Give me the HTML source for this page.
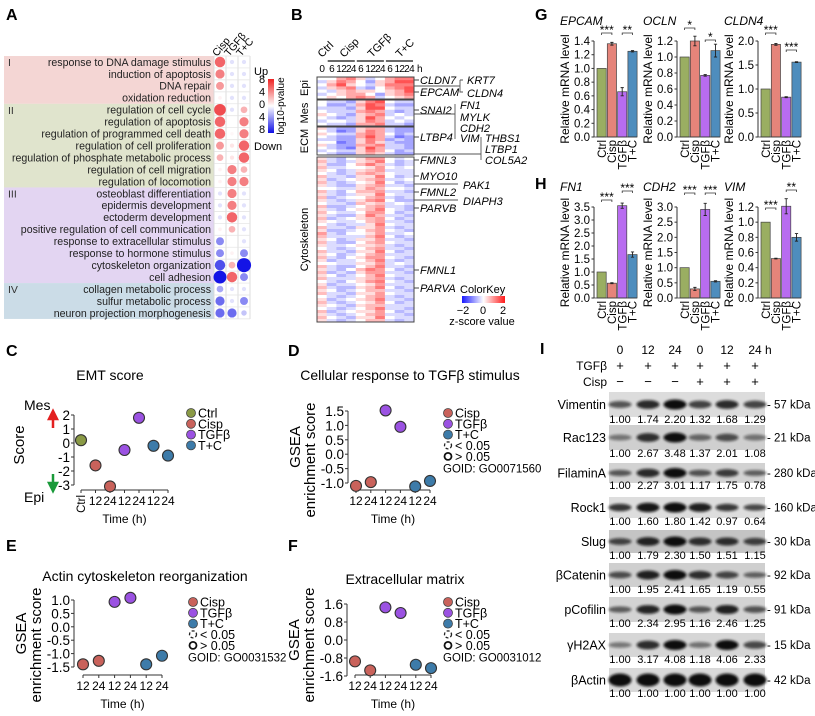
<!DOCTYPE html>
<html><head><meta charset="utf-8">
<style>
html,body{margin:0;padding:0;background:#fff;}
svg{display:block;font-family:"Liberation Sans",Arial,sans-serif;}
.pl{font-size:16px;font-weight:bold;}
.it{font-style:italic;}
</style></head>
<body>
<svg id="fig" width="815" height="716" viewBox="0 0 815 716" xmlns="http://www.w3.org/2000/svg">
<defs>
<linearGradient id="gA" x1="0" y1="0" x2="0" y2="1"><stop offset="0" stop-color="#ee2222"/><stop offset="0.5" stop-color="#ffffff"/><stop offset="1" stop-color="#1010e6"/></linearGradient>
<linearGradient id="gB" x1="0" y1="0" x2="1" y2="0"><stop offset="0" stop-color="#1a1aff"/><stop offset="0.5" stop-color="#ffffff"/><stop offset="1" stop-color="#ff1a1a"/></linearGradient>
<filter id="blur" x="-20%" y="-50%" width="140%" height="200%"><feGaussianBlur stdDeviation="1.3"/></filter>
</defs>
<text class="pl" x="6" y="20">A</text>
<text class="pl" x="291" y="20">B</text>
<text class="pl" x="535" y="20">G</text>
<text class="pl" x="535" y="189">H</text>
<text class="pl" x="540" y="354">I</text>
<text class="pl" x="6" y="356">C</text>
<text class="pl" x="288" y="356">D</text>
<text class="pl" x="6" y="551">E</text>
<text class="pl" x="288" y="551">F</text>
<g id="pA"></g>
<g id="pB"></g>
<g id="pG"></g>
<g id="pI"></g>
<g id="pC"></g>
</svg>
<script>
const NS='http://www.w3.org/2000/svg';
function mk(tag,attrs,parent){const e=document.createElementNS(NS,tag);for(const k in attrs)e.setAttribute(k,attrs[k]);parent.appendChild(e);return e;}
function tx(parent,x,y,s,attrs){const e=mk('text',Object.assign({x:x,y:y},attrs||{}),parent);e.textContent=s;return e;}

/* ===== Panel A data ===== */
const goTerms=["response to DNA damage stimulus","induction of apoptosis","DNA repair","oxidation reduction","regulation of cell cycle","regulation of apoptosis","regulation of programmed cell death","regulation of cell proliferation","regulation of phosphate metabolic process","regulation of cell migration","regulation of locomotion","osteoblast differentiation","epidermis development","ectoderm development","positive regulation of cell communication","response to extracellular stimulus","response to hormone stimulus","cytoskeleton organization","cell adhesion","collagen metabolic process","sulfur metabolic process","neuron projection morphogenesis"];
const goCisp=[6,5,4,0.5,7,6,6,4,3,0.5,0.5,-1,-1,-1,0.5,-4,-4,-6,-8,-3,-5,-5];
const goTgf=[-1,-1,-1,-1,-1,0,0.3,1,1,5,5,5,5,6,3,0,0.5,3,6,-1,-1,-5];
const goTC=[-1,-1,-1,-1,3,5,5,6,6,3,5,-1,-1,-1,-1,-1,-4,-9,-4,-1,-4,-2];
const goColNames=["Cisp","TGFβ","T+C"];
const goGroupNames=["I","II","III","IV"];
const goGroupStart=[0,4,11,19];
const goGroupEnd=[3,10,18,21];
const goGroupFill=["#f4d6d4","#e0e4cd","#e3d5f2","#cbdce7"];
const cbTicks=["8","4","0","4","8"];
(function(){
  const g=document.getElementById('pA');
  const rowY=i=>62+i*11.95;
  const colX=[220,232,244];
  for(let k=0;k<goGroupNames.length;k++){
    const y0=rowY(goGroupStart[k])-6,y1=rowY(goGroupEnd[k])+6;
    const r=mk('rect',{x:4,y:y0,width:210,height:y1-y0,fill:goGroupFill[k]},g);
    
    
    const t=tx(g,8,y0+10,goGroupNames[k],{'font-size':10.5,fill:'#333'});
    
    
  }
  const top=rowY(0)-6,bot=rowY(goTerms.length-1)+6;
  for(let c=0;c<=3;c++){const l=mk('line',{x1:214+c*12,x2:214+c*12,y1:top,y2:bot,stroke:'#d6d6d6','stroke-width':0.8},g);
    
    }
  for(let i=0;i<=goTerms.length;i++){const y=rowY(i)-6;const l=mk('line',{x1:214,x2:250,y1:y,y2:y,stroke:'#e2e2e2','stroke-width':0.7},g);
    
    }
  const vals=[goCisp,goTgf,goTC];
  goTerms.forEach((term,i)=>{
    const t=tx(g,211,rowY(i)+3.8,term,{'font-size':10.6,fill:'#222'});
    t.setAttribute('text-anchor','end');
    
    
    for(let c=0;c<3;c++){
      const v=vals[c][i];const a=Math.min(1,Math.abs(v)/8);
      const col=v>=0?`rgb(${Math.round(255-17*a)},${Math.round(255-205*a)},${Math.round(255-200*a)})`:`rgb(${Math.round(255-235*a)},${Math.round(255-235*a)},${Math.round(255-25*a)})`;
      const d=mk('circle',{cx:colX[c],cy:rowY(i),r:1.5+0.62*Math.abs(v),fill:col},g);
      
      
    }
  });
  goColNames.forEach((n,c)=>{const t=tx(g,colX[c]-3,57,n,{'font-size':10.5,transform:`rotate(-50 ${colX[c]-3} 57)`});
    
    });
  const bar=mk('rect',{x:268,y:79,width:6,height:54,fill:'url(#gA)'},g);
  
  
  cbTicks.forEach((s,i)=>{const t=tx(g,262,83+i*12.5,s,{'font-size':11,'text-anchor':'middle'});
    
    });
  const up=tx(g,254,75,"Up",{'font-size':11});
  const dn=tx(g,254,150,"Down",{'font-size':11});
  const lg=tx(g,0,0,"log10-pvalue",{'font-size':10,'text-anchor':'middle',transform:'translate(284 106) rotate(-90)'});
  
  
})();

/* ===== Panel B data ===== */
const hmGroupNames=["Epi","Mes","ECM","Cytoskeleton"];
const hmEpi=["4467534677","3576425688","4685435777","3567324678","4356554568","3456642567","4546763456"];
const hmMes=["4332578433","4223687322","3332588433","4333676323","5432567343","4323586434","3443576343","4332667332"];
const hmEcm=["5322566322","4312576322","5433676423","4322686312","3322576232","4412575322","5322667332","4321586332","3433576423","4322565322"];
const hmCyto=["5324577434","6323568423","5224686323","6334457434","5423567333","4323676433","6332558423","5234567334","6323458423","5322567332","4433576443","6324667332","5323558433","6234467323","5323578422","4332656343","6223467332","5324568432","6433477423","5322586332","6234567423","5433467332","4323358433","6332557323","5223467432","7324457334","6333368423","5423557332","6322467433","5334556323","4323467332","6332558423","5423467333","6324577432","5233468323","4433557343","6322468332","5324687423","6232577332","5423468433","6333567323","4324578432","5233457333","6322568423","5423466332","6332557433","4323467323","5234568332","6323457423","5432566333","4323468332","6234557423","5323467332","6432558433","5323466323"];
const hmTimes=["0","6","12","24","6","12","24","6","12","24"];
const hmConds=["Ctrl","Cisp","TGFβ","T+C"];
const hmGenes=["CLDN7","EPCAM","SNAI2","LTBP4","FMNL3","MYO10","FMNL2","PARVB","FMNL1","PARVA"];
const hmGeneY=[80,92,110,137,160,176,192,208,270,288];
(function(){
  const g=document.getElementById('pB');
  const x0=317,x1=414,cw=(x1-x0)/10;
  const blocks=[hmEpi,hmMes,hmEcm,hmCyto];
  const by0=[77,100,127,157],by1=[99,126,155,322];
  const col=(d,b)=>{const v=(d-4)/4;const a=Math.abs(v)*(b==3?0.62:0.8);return v>=0?`rgb(255,${Math.round(255-215*a)},${Math.round(255-215*a)})`:`rgb(${Math.round(255-225*a)},${Math.round(255-225*a)},255)`;};
  blocks.forEach((rows,b)=>{
    const rh=(by1[b]-by0[b])/rows.length;
    rows.forEach((s,r)=>{for(let c=0;c<10;c++){
      const rc=mk('rect',{x:x0+c*cw,y:by0[b]+r*rh,width:cw+0.3,height:rh+0.3,fill:col(+s[c],b)},g);
      
      
    }});
    const br=mk('rect',{x:x0,y:by0[b],width:x1-x0,height:by1[b]-by0[b],fill:'none',stroke:'#444','stroke-width':1},g);
    
    
    const cy=(by0[b]+by1[b])/2;
    const lab=tx(g,0,0,hmGroupNames[b],{'font-size':11,'text-anchor':'middle',transform:`translate(308 ${b==1?113:b==2?141:cy}) rotate(-90)`});
    
    
  });
  hmTimes.forEach((s,c)=>{const t=tx(g,x0+(c+0.5)*cw,72,s,{'font-size':10,'text-anchor':'middle','letter-spacing':'-0.6'});
    
    });
  const h=tx(g,417,72,"h",{'font-size':10});
  const cx=[322,344,372,400];
  hmConds.forEach((s,i)=>{const t=tx(g,cx[i],58,s,{'font-size':11,transform:`rotate(-45 ${cx[i]} 58)`});
    
    
    if(i>0){const l=mk('line',{x1:x0+(1+(i-1)*3)*cw+1,x2:x0+(4+(i-1)*3)*cw-1,y1:61,y2:61,stroke:'#111','stroke-width':1.2},g);
      
      }
  });
  hmGenes.forEach((s,i)=>{
    const l=mk('line',{x1:414,x2:419,y1:hmGeneY[i],y2:hmGeneY[i],stroke:'#444'},g);
    
    
    const t=tx(g,420,hmGeneY[i]+4,s,{'font-size':11,'font-style':'italic'});
    
    
  });
  const extra=[["KRT7",467,84],["CLDN4",467,97],["FN1",460,109],["MYLK",460,121],["CDH2",460,132],["VIM",460,142],["THBS1",485,142],["LTBP1",485,153],["COL5A2",485,164],["PAK1",463,189],["DIAPH3",463,205]];
  extra.forEach(e=>{const t=tx(g,e[1],e[2],e[0],{'font-size':11,'font-style':'italic'});
    
    });
  const paths=["M414 86 H460 M460 80 V92 H463 M460 80 H463","M414 114 H455 M455 104 V139","M414 154 H481 M481 137 V160","M414 184 H458","M414 200 H458"];
  paths.forEach(d=>{const p=mk('path',{d:d,fill:'none',stroke:'#555','stroke-width':0.9},g);
    
    });
  const ck=tx(g,460,293,"ColorKey",{'font-size':11});
  const cb=mk('rect',{x:462,y:296,width:43,height:7,fill:'url(#gB)'},g);
  ["−2","0","2"].forEach((s,i)=>{const t=tx(g,463+i*20,314,s,{'font-size':11,'text-anchor':'middle'});});
  const zs=tx(g,482,325,"z-score value",{'font-size':11,'text-anchor':'middle'});
})();

/* ===== Panels G/H data ===== */
const barGroups=["Ctrl","Cisp","TGFβ","T+C"];
const barColors=["#9aae62","#e5847a","#b86cf0","#4e8dbd"];
const geneTitles=["EPCAM","OCLN","CLDN4","FN1","CDH2","VIM"];
const valEPCAM=[1,1.36,0.66,1.25], errEPCAM=[0,0.02,0.06,0.01];
const valOCLN=[1,1.2,0.77,1.08], errOCLN=[0,0.06,0.01,0.08];
const valCLDN4=[1,1.93,0.83,1.56], errCLDN4=[0,0.02,0.01,0.01];
const valFN1=[1,0.57,3.55,1.67], errFN1=[0,0.02,0.1,0.1];
const valCDH2=[1,0.3,2.92,0.55], errCDH2=[0,0.05,0.2,0.02];
const valVIM=[1,0.52,1.21,0.8], errVIM=[0,0.005,0.1,0.05];
const axisMax=[1.4,1.2,2.0,3.5,3.0,1.2];
const axisStep=[0.2,0.2,0.5,0.5,0.5,0.2];
const sigLabels=[["***","**"],["*","*"],["***","***"],["***","***"],["***","***"],["***","**"]];
(function(){
  const g=document.getElementById('pG');
  const vals=[valEPCAM,valOCLN,valCLDN4,valFN1,valCDH2,valVIM];
  const errs=[errEPCAM,errOCLN,errCLDN4,errFN1,errCDH2,errVIM];
  const axX=[594,677,758,594,677,758];
  const top=[41,41,41,207,207,207], bot=[137,137,137,298,298,298];
  const sigY=[[33,33],[28,40],[33,50],[200,191],[193,193],[208,190]];
  for(let p=0;p<6;p++){
    const ys=v=>bot[p]-(v/axisMax[p])*(bot[p]-top[p]);
    const ax=axX[p];
    const tt=tx(g,ax-34,top[p]-16,geneTitles[p],{'font-size':12,'font-style':'italic'});
    
    
    const yl=tx(g,0,0,"Relative mRNA level",{'font-size':12,'text-anchor':'middle',transform:`translate(${ax-25} ${(top[p]+bot[p])/2}) rotate(-90)`});
    
    
    const al=mk('line',{x1:ax,x2:ax,y1:top[p],y2:bot[p],stroke:'#333'},g);
    
    
    const n=Math.round(axisMax[p]/axisStep[p]);
    for(let k=0;k<=n;k++){const v=k*axisStep[p];const y=ys(v);
      const tk=mk('line',{x1:ax-2.5,x2:ax,y1:y,y2:y,stroke:'#333'},g);
      
      
      const tl=tx(g,ax-4,y+4,v.toFixed(1),{'font-size':11.5,'text-anchor':'end'});
      
      }
    const bc=[];
    for(let i=0;i<4;i++){
      const x=ax+3+i*10.3;bc.push(x+4.6);
      const r=mk('rect',{x:x,y:ys(vals[p][i]),width:9.2,height:bot[p]-ys(vals[p][i]),fill:barColors[i],stroke:'#444','stroke-width':0.7},g);
      
      
      if(errs[p][i]>0){const e=mk('path',{d:`M${x+4.6} ${ys(vals[p][i]+errs[p][i])} V${ys(vals[p][i]-errs[p][i])} M${x+3} ${ys(vals[p][i]+errs[p][i])} H${x+6.2} M${x+3} ${ys(vals[p][i]-errs[p][i])} H${x+6.2}`,stroke:'#222','stroke-width':0.9,fill:'none'},g);
        
        }
      const xl=tx(g,0,0,barGroups[i],{'font-size':11.5,'text-anchor':'end',transform:`translate(${x+8.8} ${bot[p]+3}) rotate(-90)`});
      
      
    }
    const bl=mk('line',{x1:ax,x2:ax+43,y1:bot[p],y2:bot[p],stroke:'#333','stroke-width':0.7},g);
    
    
    [[0,1],[2,3]].forEach((pr,k)=>{const y=sigY[p][k];
      const s=mk('path',{d:`M${bc[pr[0]]} ${y+2} V${y} H${bc[pr[1]]} V${y+2}`,stroke:'#333','stroke-width':0.8,fill:'none'},g);
      
      
      const st=tx(g,(bc[pr[0]]+bc[pr[1]])/2,y+1,sigLabels[p][k],{'font-size':12,'text-anchor':'middle'});
      
      });
  }
})();

/* ===== Panel I data ===== */
const blotNames=["Vimentin","Rac123","FilaminA","Rock1","Slug","βCatenin","pCofilin","γH2AX","βActin"];
const blotKda=["57 kDa","21 kDa","280 kDa","160 kDa","30 kDa","92 kDa","91 kDa","15 kDa","42 kDa"];
const qVimentin=[1.00,1.74,2.20,1.32,1.68,1.29];
const qRac123=[1.00,2.67,3.48,1.37,2.01,1.08];
const qFilaminA=[1.00,2.27,3.01,1.17,1.75,0.78];
const qRock1=[1.00,1.60,1.80,1.42,0.97,0.64];
const qSlug=[1.00,1.79,2.30,1.50,1.51,1.15];
const qBCatenin=[1.00,1.95,2.41,1.65,1.19,0.55];
const qPCofilin=[1.00,2.34,2.95,1.16,2.46,1.25];
const qGH2AX=[1.00,3.17,4.08,1.18,4.06,2.33];
const qBActin=[1.00,1.00,1.00,1.00,1.00,1.00];
const laneHours=["0","12","24","0","12","24"];
const laneTGF=["+","+","+","+","+","+"];
const laneCisp=["−","−","−","+","+","+"];
(function(){
  const g=document.getElementById('pI');
  const lx=[620,648,675,700,727,755];
  const q=[qVimentin,qRac123,qFilaminA,qRock1,qSlug,qBCatenin,qPCofilin,qGH2AX,qBActin];
  const y0=[392,425,463,497,530,563,597,633,668], y1=[417,450,483,518,553,587,622,657,692];
  const numY=[423,457,489,525,559,593,627,663,697];
  const base=[0.35,0.25,0.45,0.55,0.5,0.45,0.4,0.3,0.95];
  const bg=["#dcdcdc","#cfcfcf","#d2d2d2","#dddddd","#c4c4c4","#cfcfcf","#d3d3d3","#d6d6d6","#d9d9d9"];
  laneHours.forEach((s,i)=>{const t=tx(g,lx[i],354,s,{'font-size':12,'text-anchor':'middle'});});
  const hh=tx(g,765,354,"h",{'font-size':12});
  const tg=tx(g,607,370,"TGFβ",{'font-size':12,'text-anchor':'end'});
  const cs=tx(g,607,386,"Cisp",{'font-size':12,'text-anchor':'end'});
  lx.forEach((x,i)=>{
    const a=tx(g,x,370,laneTGF[i],{'font-size':13,'text-anchor':'middle'});
    const b=tx(g,x,386,laneCisp[i],{'font-size':13,'text-anchor':'middle'});
  });
  blotNames.forEach((name,r)=>{
    const bgR=mk('rect',{x:609,y:y0[r],width:156,height:y1[r]-y0[r],fill:bg[r]},g);
    
    
    const mx=Math.max.apply(null,q[r]);
    const cy=(y0[r]+y1[r])/2;
    q[r].forEach((v,i)=>{
      const op=Math.min(1,base[r]+(1-base[r])*(v/mx));
      const b=mk('ellipse',{cx:lx[i],cy:cy,rx:11.5,ry:2.2+2.8*(v/mx)+(r==8?1.5:0),fill:'#111',opacity:op.toFixed(2),filter:'url(#blur)'},g);
      
      
      const t=tx(g,lx[i],numY[r],v.toFixed(2),{'font-size':11,'text-anchor':'middle'});
      
      
    });
    const nl=tx(g,606,cy+4.5,name,{'font-size':12.5,'text-anchor':'end'});
    
    
    const kd=tx(g,767,cy+4,"- "+blotKda[r],{'font-size':11.5});
    
    
  });
})();

/* ===== Panels C-F data ===== */
const emtCats=["Ctrl","12","24","12","24","12","24"];
const emtScore=[0.2,-1.6,-3.1,-0.5,1.8,-0.2,-0.9];
const emtGroup=[0,1,1,2,2,3,3];
const gseaCats=["12","24","12","24","12","24"];
const gseaGroup=[1,1,2,2,3,3];
const gseaTGF=[-1.1,-0.97,1.52,0.95,-1.12,-0.93];
const gseaActin=[-1.4,-1.27,0.93,1.08,-1.4,-1.08];
const gseaECM=[-0.95,-1.35,1.45,1.2,-1.1,-1.25];
const grpNames=["Ctrl","Cisp","TGFβ","T+C"];
const grpColors=["#8a9a45","#c9625b","#9b52e2","#3d7ba9"];
const ticksEMT=[2,1,0,-1,-2,-3];
const ticksTGF=[1.5,1.0,0.5,0.0,-0.5,-1.0];
const ticksActin=[1.0,0.5,0.0,-0.5,-1.0,-1.5];
const ticksECM=[1.6,0.8,0.0,-0.8,-1.6];
(function(){
  const g=document.getElementById('pC');
  function panel(o){
    const ys=v=>o.yb+(v-o.vmin)/(o.vmax-o.vmin)*(o.yt-o.yb);
    const ti=tx(g,o.tx,o.ty,o.title,{'font-size':14,'text-anchor':'middle'});
    
    
    const ax=mk('line',{x1:o.ax,x2:o.ax,y1:ys(o.vmax),y2:ys(o.vmin),stroke:'#333'},g);
    
    
    o.ticks.forEach(v=>{const y=ys(v);
      const tk=mk('line',{x1:o.ax-3,x2:o.ax,y1:y,y2:y,stroke:'#333'},g);
      
      
      const tl=tx(g,o.ax-4,y+5,o.fmt(v),{'font-size':13.5,'text-anchor':'end'});
      
      });
    const xs=i=>o.x0+i*o.dx;
    const xa=mk('line',{x1:xs(0),x2:xs(o.cats.length-1),y1:o.xaY,y2:o.xaY,stroke:'#333'},g);
    
    
    o.cats.forEach((c,i)=>{
      const tk=mk('line',{x1:xs(i),x2:xs(i),y1:o.xaY,y2:o.xaY+3,stroke:'#333'},g);
      
      
      const lab=c=="Ctrl"?tx(g,0,0,c,{'font-size':11.5,'text-anchor':'end',transform:`translate(${xs(i)+4} ${o.xaY+5}) rotate(-90)`}):tx(g,xs(i),o.xaY+15,c,{'font-size':12,'text-anchor':'middle'});
      
      
      const pt=mk('circle',{cx:xs(i),cy:ys(o.vals[i]),r:5.5,fill:grpColors[o.grp[i]],stroke:'#333','stroke-width':1.1},g);
      
      
    });
    const tl=tx(g,(xs(0)+xs(o.cats.length-1))/2,o.xaY+33,"Time (h)",{'font-size':12,'text-anchor':'middle'});
    
    
    const lgx=o.lx;let ly=o.ly;
    o.legend.forEach(k=>{
      const c=mk('circle',{cx:lgx,cy:ly,r:4.5,fill:grpColors[k],stroke:'#444','stroke-width':0.8},g);
      
      
      const t=tx(g,lgx+7,ly+4.5,grpNames[k],{'font-size':12.5});
      
      
      ly+=10.8;
    });
    if(o.goid){
      const c1=mk('circle',{cx:lgx,cy:ly,r:3.5,fill:'none',stroke:'#222','stroke-width':1.3,'stroke-dasharray':'3 2'},g);
      
      
      const t1=tx(g,lgx+7,ly+4.5,"< 0.05",{'font-size':12.5});
      ly+=11;
      const c2=mk('circle',{cx:lgx,cy:ly,r:3.5,fill:'none',stroke:'#111','stroke-width':1.8},g);
      
      
      const t2=tx(g,lgx+7,ly+4.5,"> 0.05",{'font-size':12.5});
      ly+=11.5;
      const t3=tx(g,lgx-5,ly+4.5,"GOID: "+o.goid,{'font-size':11.5});
      const y1=tx(g,0,0,"GSEA",{'font-size':15,'text-anchor':'middle',transform:`translate(${o.ax-48} ${(ys(o.vmax)+ys(o.vmin))/2}) rotate(-90)`});
      
      const y2=tx(g,0,0,"enrichment score",{'font-size':15,'text-anchor':'middle',transform:`translate(${o.ax-33} ${o.xaY-30}) rotate(-90)`});
      
    }
  }
  panel({title:"EMT score",tx:110,ty:380,ax:74,vmin:-3,vmax:2,yb:485,yt:415,ticks:ticksEMT,fmt:v=>String(v),x0:81,dx:14.5,cats:emtCats,vals:emtScore,grp:emtGroup,xaY:490,lx:191,ly:413,legend:[0,1,2,3]});
  panel({title:"Cellular response to TGFβ stimulus",tx:410,ty:380,ax:348,vmin:-1,vmax:1.5,yb:483,yt:411,ticks:ticksTGF,fmt:v=>v.toFixed(1),x0:356,dx:14.8,cats:gseaCats,vals:gseaTGF,grp:gseaGroup,xaY:490,lx:448,ly:413,legend:[1,2,3],goid:"GO0071560"});
  panel({title:"Actin cytoskeleton reorganization",tx:145,ty:581,ax:74,vmin:-1.5,vmax:1.0,yb:667,yt:600,ticks:ticksActin,fmt:v=>v.toFixed(1),x0:83,dx:15.8,cats:gseaCats,vals:gseaActin,grp:gseaGroup,xaY:675,lx:193,ly:602,legend:[1,2,3],goid:"GO0031532"});
  panel({title:"Extracellular matrix",tx:405,ty:584,ax:347,vmin:-1.6,vmax:1.6,yb:676,yt:604,ticks:ticksECM,fmt:v=>v.toFixed(1),x0:355,dx:15.2,cats:gseaCats,vals:gseaECM,grp:gseaGroup,xaY:675,lx:448,ly:602,legend:[1,2,3],goid:"GO0031012"});
  const sc=tx(g,0,0,"Score",{'font-size':15,'text-anchor':'middle',transform:'translate(24 445) rotate(-90)'});
  
  const me=tx(g,24,410,"Mes",{'font-size':14});
  const ep=tx(g,24,502,"Epi",{'font-size':14});
  const ua=mk('path',{d:'M53 428 V418 M49 419 L53 411 L57 419 Z',stroke:'#e32020','stroke-width':2.5,fill:'#e32020'},g);
  
  const da=mk('path',{d:'M53 474 V484 M49 483 L53 491 L57 483 Z',stroke:'#1a9a3a','stroke-width':2.5,fill:'#1a9a3a'},g);
  
})();
</script>
</body></html>
